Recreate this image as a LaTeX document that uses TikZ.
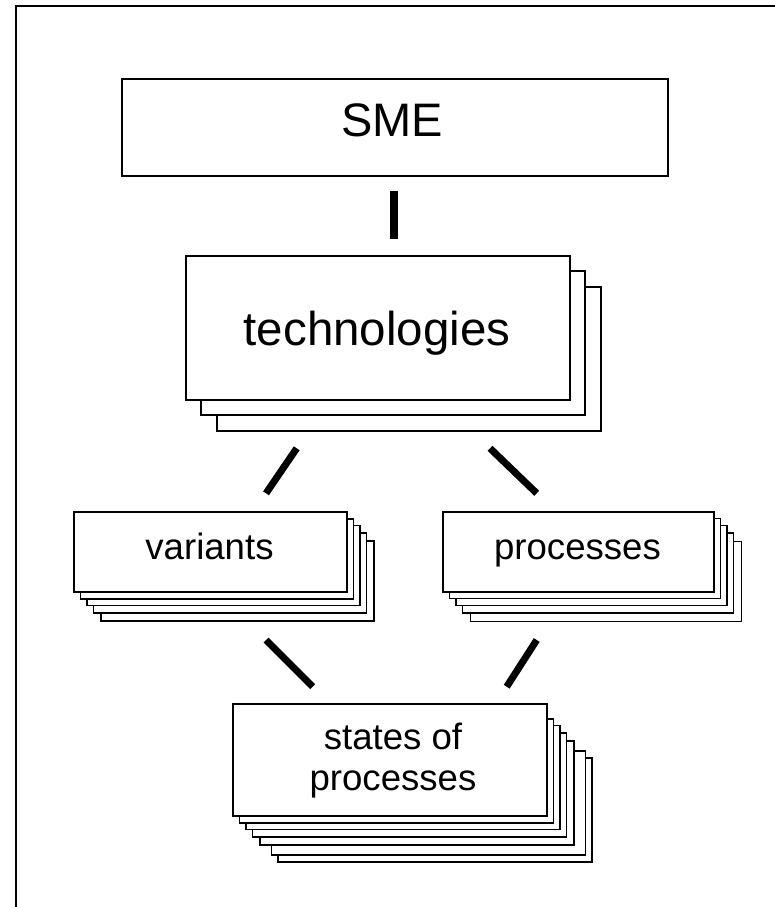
\documentclass[tikz,border=0pt]{standalone}
\usepackage{fontspec}
\setmainfont{Liberation Sans}
\begin{document}
\begin{tikzpicture}[x=1pt,y=-1pt,
  card/.style={draw, fill=white, line width=1.6pt},
  boxnode/.style={card, inner sep=0pt, anchor=north west},
  bigtext/.style={anchor=base, inner sep=0pt, font=\fontsize{47}{56}\selectfont},
  midtext/.style={anchor=base, inner sep=0pt, font=\fontsize{36.6}{44}\selectfont},
  link/.style={line width=7pt},
]
\useasboundingbox (0,0) rectangle (775,907);
% outer frame
\draw[line width=2pt] (16,930) -- (16,6) -- (800,6);

% top box
\node[boxnode, minimum width=546pt, minimum height=97pt] (sme) at (121,78) {};
\node[bigtext] (smet) at (392,136) {SME};

% technologies stack
\foreach \d in {32,16}
  \draw[card] (185+\d,255+\d) rectangle (569+\d,399+\d);
\node[boxnode, minimum width=384pt, minimum height=144pt] (tech) at (185,255) {};
\node[bigtext, font=\fontsize{47.5}{56}\selectfont] (techt) at (377,345) {technologies};

% variants stack
\foreach \dx/\dy in {28/29.8,20.5/22,14/14.5,7.5/7.8}
  \draw[card] (73+\dx,511+\dy) rectangle (346+\dx,591+\dy);
\node[boxnode, minimum width=273pt, minimum height=80pt] (var) at (73,511) {};
\node[midtext] (vart) at (209.5,559) {variants};

% processes stack
\foreach \dx/\dy in {28.5/30.5,20.5/22,13.8/14.3,7.5/7.5}
  \draw[card] (442+\dx,511+\dy) rectangle (713+\dx,591+\dy);
\node[boxnode, minimum width=271pt, minimum height=80pt] (proc) at (442,511) {};
\node[midtext] (proct) at (577.5,559) {processes};

% states of processes stack
\foreach \dx/\dy in {45.8/46.7,39.5/39.7,28/30,20.3/21.7,13.8/14.3,7.5/7.7}
  \draw[card] (232+\dx,711+\dy) rectangle (546+\dx,815+\dy);
\node[boxnode, minimum width=314pt, minimum height=112pt] (states) at (232,703) {};
\node[midtext] (statest1) at (393,749) {states of};
\node[midtext] (statest2) at (393,790) {processes};

% connector ends
\coordinate (smeA) at (394,191);
\coordinate (techA) at (394,239);
\coordinate (techL) at (296.7,448.3);
\coordinate (varA) at (266,493.3);
\coordinate (techR) at (490,448.3);
\coordinate (procA) at (536.7,493.3);
\coordinate (varB) at (266,640);
\coordinate (statesL) at (312.7,686.7);
\coordinate (procB) at (536.7,640);
\coordinate (statesR) at (506.7,686.7);

% connectors
\draw[link, line width=8pt] (smeA) -- (techA);
\draw[link] (techL) -- (varA);
\draw[link] (techR) -- (procA);
\draw[link] (varB) -- (statesL);
\draw[link] (procB) -- (statesR);
\end{tikzpicture}
\end{document}
